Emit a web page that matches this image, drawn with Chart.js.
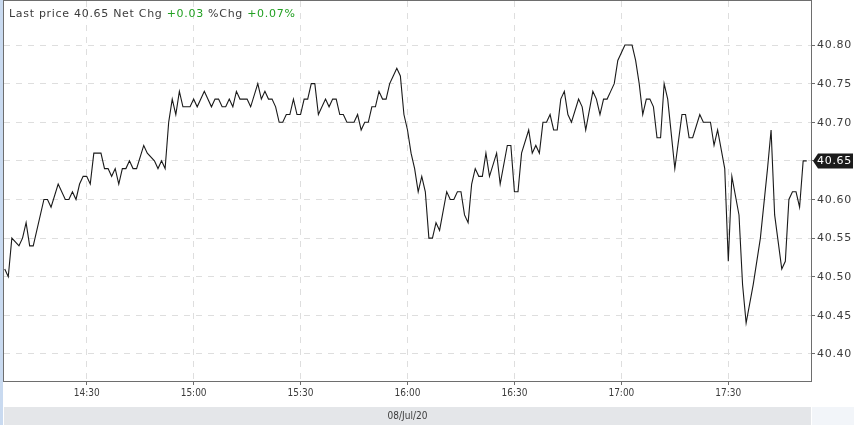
<!DOCTYPE html>
<html>
<head>
<meta charset="utf-8">
<script src="https://cdn.jsdelivr.net/npm/chart.js@4.4.0/dist/chart.umd.min.js"></script>
<style>
    html, body { margin: 0; padding: 0; background: #fff; }
    #wrap { width: 854px; height: 425px; }
</style>
</head>
<body>
<div id="wrap"><canvas id="priceChart" width="854" height="425"></canvas></div>
<script>
// intraday trade times and last prices, 08/Jul/20
const times = [
    "14:07", "14:08", "14:09", "14:11", "14:12", "14:13", "14:14", "14:15", "14:18", "14:19",
    "14:20", "14:22", "14:24", "14:25", "14:26", "14:27", "14:28", "14:29", "14:30", "14:31",
    "14:32", "14:34", "14:35", "14:36", "14:37", "14:38", "14:39", "14:40", "14:41", "14:42",
    "14:43", "14:44", "14:46", "14:47", "14:49", "14:50", "14:51", "14:52", "14:53", "14:54",
    "14:55", "14:56", "14:57", "14:59", "15:00", "15:01", "15:03", "15:05", "15:06", "15:07",
    "15:08", "15:09", "15:10", "15:11", "15:12", "15:13", "15:15", "15:16", "15:18", "15:19",
    "15:20", "15:21", "15:22", "15:23", "15:24", "15:25", "15:26", "15:27", "15:28", "15:29",
    "15:30", "15:31", "15:32", "15:33", "15:34", "15:35", "15:37", "15:38", "15:39", "15:40",
    "15:41", "15:42", "15:43", "15:45", "15:46", "15:47", "15:48", "15:49", "15:50", "15:51",
    "15:52", "15:53", "15:54", "15:55", "15:56", "15:57", "15:58", "15:59", "16:00", "16:01",
    "16:02", "16:03", "16:04", "16:05", "16:06", "16:07", "16:08", "16:09", "16:11", "16:12",
    "16:13", "16:14", "16:15", "16:16", "16:17", "16:18", "16:19", "16:20", "16:21", "16:22",
    "16:23", "16:25", "16:26", "16:28", "16:29", "16:30", "16:31", "16:32", "16:34", "16:35",
    "16:36", "16:37", "16:38", "16:39", "16:40", "16:41", "16:42", "16:43", "16:44", "16:45",
    "16:46", "16:48", "16:49", "16:50", "16:52", "16:53", "16:54", "16:55", "16:56", "16:57",
    "16:58", "16:59", "17:00", "17:01", "17:03", "17:04", "17:05", "17:06", "17:07", "17:08",
    "17:09", "17:10", "17:11", "17:12", "17:13", "17:15", "17:17", "17:18", "17:19", "17:20",
    "17:22", "17:23", "17:25", "17:26", "17:27", "17:29", "17:30", "17:31", "17:33", "17:34",
    "17:35", "17:37", "17:39", "17:41", "17:42", "17:43", "17:45", "17:46", "17:47", "17:48",
    "17:49", "17:50", "17:51", "17:52"
];

const prices = [
    40.51, 40.50, 40.55, 40.54, 40.55, 40.57, 40.54, 40.54, 40.60, 40.60,
    40.59, 40.62, 40.60, 40.60, 40.61, 40.60, 40.62, 40.63, 40.63, 40.62,
    40.66, 40.66, 40.64, 40.64, 40.63, 40.64, 40.62, 40.64, 40.64, 40.65,
    40.64, 40.64, 40.67, 40.66, 40.65, 40.64, 40.65, 40.64, 40.70, 40.73,
    40.71, 40.74, 40.72, 40.72, 40.73, 40.72, 40.74, 40.72, 40.73, 40.73,
    40.72, 40.72, 40.73, 40.72, 40.74, 40.73, 40.73, 40.72, 40.75, 40.73,
    40.74, 40.73, 40.73, 40.72, 40.70, 40.70, 40.71, 40.71, 40.73, 40.71,
    40.71, 40.73, 40.73, 40.75, 40.75, 40.71, 40.73, 40.72, 40.73, 40.73,
    40.71, 40.71, 40.70, 40.70, 40.71, 40.69, 40.70, 40.70, 40.72, 40.72,
    40.74, 40.73, 40.73, 40.75, 40.76, 40.77, 40.76, 40.71, 40.69, 40.66,
    40.64, 40.61, 40.63, 40.61, 40.55, 40.55, 40.57, 40.56, 40.61, 40.60,
    40.60, 40.61, 40.61, 40.58, 40.57, 40.62, 40.64, 40.63, 40.63, 40.66,
    40.63, 40.66, 40.62, 40.67, 40.67, 40.61, 40.61, 40.66, 40.69, 40.66,
    40.67, 40.66, 40.70, 40.70, 40.71, 40.69, 40.69, 40.73, 40.74, 40.71,
    40.70, 40.73, 40.72, 40.69, 40.74, 40.73, 40.71, 40.73, 40.73, 40.74,
    40.75, 40.78, 40.79, 40.80, 40.80, 40.78, 40.75, 40.71, 40.73, 40.73,
    40.72, 40.68, 40.68, 40.75, 40.73, 40.64, 40.71, 40.71, 40.68, 40.68,
    40.71, 40.70, 40.70, 40.67, 40.69, 40.64, 40.52, 40.63, 40.58, 40.49,
    40.44, 40.49, 40.55, 40.64, 40.69, 40.58, 40.51, 40.52, 40.60, 40.61,
    40.61, 40.59, 40.65, 40.65
];

const lastPrice = 40.65;
const netChg = "+0.03";
const pctChg = "+0.07%";
const dateLabel = "08/Jul/20";

const toMinutes = t => {
    const [h, m] = t.split(":").map(Number);
    return h * 60 + m;
};

const fmtTime = v => {
    const h = Math.floor(v / 60);
    const m = Math.round(v % 60);
    return `${h}:${String(m).padStart(2, "0")}`;
};

const points = times.map((t, i) => ({ x: toMinutes(t), y: prices[i] }));

const GRID = "#dedede";
const TEXT = "#3c3c3c";
const GREEN = "#22a022";
const SPACED = "11px 'DejaVu Sans', sans-serif";

// page frame, header, y labels, date band and last-price flag
const decorPlugin = {
    id: "decor",
    beforeDraw(chart) {
        const c = chart.ctx;
        c.save();
        c.fillStyle = "#fff";
        c.fillRect(0, 0, chart.width, chart.height);
        c.fillStyle = "#c9daf0";
        c.fillRect(0, 0, 3, chart.height);
        c.restore();
    },
    afterDraw(chart) {
        const c = chart.ctx;
        const area = chart.chartArea;
        const yScale = chart.scales.y;
        c.save();

        // chart border
        c.strokeStyle = "#6e6e6e";
        c.lineWidth = 1;
        c.strokeRect(area.left - 0.5, area.top - 0.5, area.right - area.left + 1, area.bottom - area.top + 1);

        // date band
        c.fillStyle = "#e4e6e9";
        c.fillRect(area.left, 407, area.right - area.left, 18);
        c.fillStyle = "#f2f5f9";
        c.fillRect(area.right + 1, 407, chart.width - area.right, 18);
        c.font = "10px 'Liberation Sans Narrow', 'DejaVu Sans Condensed', sans-serif";
        c.fillStyle = TEXT;
        c.textAlign = "center";
        c.textBaseline = "middle";
        c.fillText(dateLabel, (area.left + area.right) / 2, 416);

        c.letterSpacing = "0.7px";
        c.font = SPACED;
        c.textAlign = "left";

        // header line
        const parts = [
            ["Last price " + lastPrice.toFixed(2) + " Net Chg ", TEXT],
            [netChg, GREEN],
            [" %Chg ", TEXT],
            [pctChg, GREEN]
        ];
        let x = 9;
        parts.forEach(([txt, col]) => {
            c.fillStyle = col;
            c.fillText(txt, x, 14);
            x += c.measureText(txt).width;
        });

        // y axis labels
        c.fillStyle = TEXT;
        yScale.ticks.forEach(t => {
            c.fillText(t.value.toFixed(2), area.right + 6, yScale.getPixelForValue(t.value) + 0.5);
        });

        // last price flag on the right axis
        const y = yScale.getPixelForValue(lastPrice);
        const fx = area.right + 2;
        c.fillStyle = "#1b1b1b";
        c.beginPath();
        c.moveTo(fx, y);
        c.lineTo(fx + 5, y - 7.5);
        c.lineTo(853, y - 7.5);
        c.lineTo(853, y + 7.5);
        c.lineTo(fx + 5, y + 7.5);
        c.closePath();
        c.fill();
        c.fillStyle = "#fff";
        c.fillText(lastPrice.toFixed(2), area.right + 6, y + 0.5);

        c.restore();
    }
};

const ctx = document.getElementById("priceChart").getContext("2d");

new Chart(ctx, {
    type: "line",
    data: {
        datasets: [
            {
                label: "Last price",
                data: points,
                borderColor: "#1a1a1a",
                borderWidth: 1.1,
                tension: 0,
                pointRadius: 0,
                fill: false
            }
        ]
    },
    options: {
        responsive: false,
        animation: false,
        devicePixelRatio: 1,
        layout: {
            padding: { left: 4, top: 1, right: 0, bottom: 0 }
        },
        plugins: {
            legend: { display: false },
            tooltip: { enabled: false }
        },
        scales: {
            x: {
                type: "linear",
                min: 846.8,
                max: 1073.2,
                afterFit: scale => {
                    scale.height = 44;
                    scale.paddingLeft = 0;
                    scale.paddingRight = 0;
                },
                border: { display: false, dash: [6, 6] },
                grid: {
                    color: GRID,
                    tickColor: "#6e6e6e",
                    tickLength: 4,
                    tickBorderDash: []
                },
                ticks: {
                    stepSize: 30,
                    includeBounds: false,
                    autoSkip: false,
                    maxRotation: 0,
                    padding: 2,
                    color: TEXT,
                    font: { family: "'Liberation Sans Narrow', 'DejaVu Sans Condensed', sans-serif", size: 10 },
                    callback: v => fmtTime(v)
                }
            },
            y: {
                position: "right",
                min: 40.365,
                max: 40.857,
                afterBuildTicks: scale => {
                    scale.ticks = scale.ticks.filter(t => t.value <= 40.8001);
                },
                afterFit: scale => {
                    scale.width = 43;
                    scale.paddingTop = 0;
                    scale.paddingBottom = 0;
                },
                border: { display: false, dash: [6, 6] },
                grid: {
                    color: GRID,
                    tickColor: "#6e6e6e",
                    tickLength: 4,
                    tickBorderDash: []
                },
                ticks: {
                    display: false,
                    stepSize: 0.05,
                    includeBounds: false
                }
            }
        }
    },
    plugins: [decorPlugin]
});
</script>
</body>
</html>
